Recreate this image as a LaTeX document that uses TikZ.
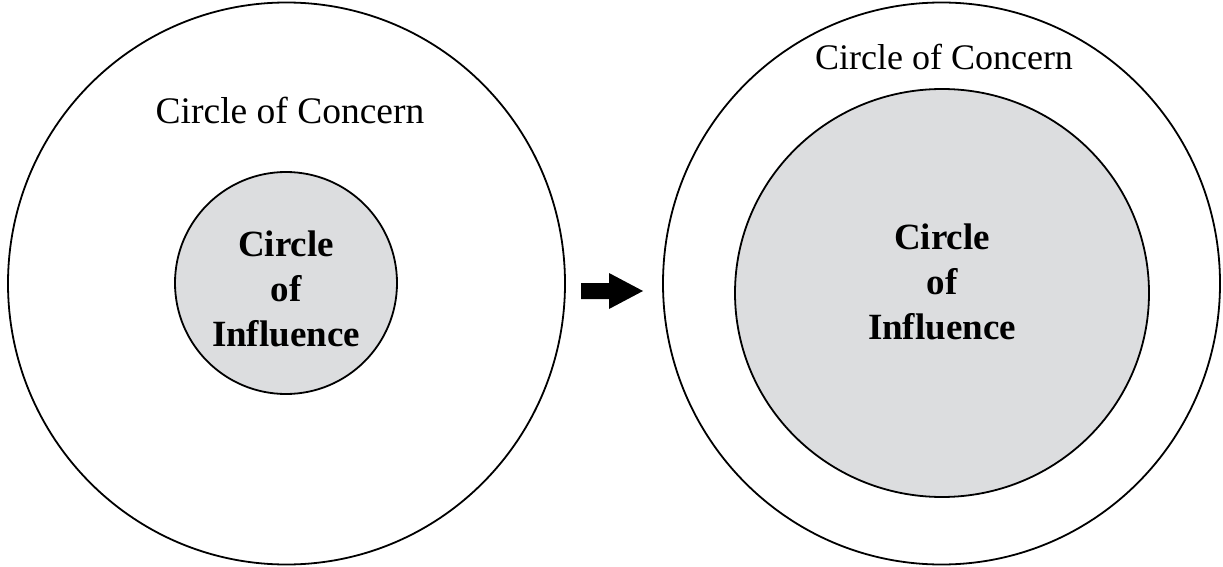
\documentclass[tikz,border=0pt]{standalone}
\usepackage{fontspec}
\setmainfont{Liberation Serif}
\definecolor{infl}{HTML}{DCDDDF}
\begin{document}
\begin{tikzpicture}[x=1pt,y=-1pt,
  ring/.style={line width=1.8pt},
  concern/.style={font=\fontsize{37.5}{44}\selectfont,anchor=base},
  influence/.style={font=\bfseries\fontsize{37}{45}\selectfont,align=center}]
\useasboundingbox (0,0) rectangle (1223,567);
% left
\draw[ring] (286.5,283.5) ellipse [x radius=278.5,y radius=281];
\filldraw[ring,fill=infl] (286,283) circle [radius=111];
\node[concern] (c1) at (290,124) {Circle of Concern};
\node[influence] (i1) at (286,289) {Circle\\of\\Influence};
% arrow
\fill[black] (581,283) -- (609,283) -- (609,273) -- (643,291) -- (609,309) -- (609,299) -- (581,299) -- cycle;
% right
\draw[ring] (941.5,283.5) ellipse [x radius=278.5,y radius=281];
\filldraw[ring,fill=infl] (942,293) ellipse [x radius=207,y radius=204];
\node[concern,font=\fontsize{36}{40}\selectfont] (c2) at (944,70) {Circle of Concern};
\node[influence] (i2) at (942,282) {Circle\\of\\Influence};
\end{tikzpicture}
\end{document}
